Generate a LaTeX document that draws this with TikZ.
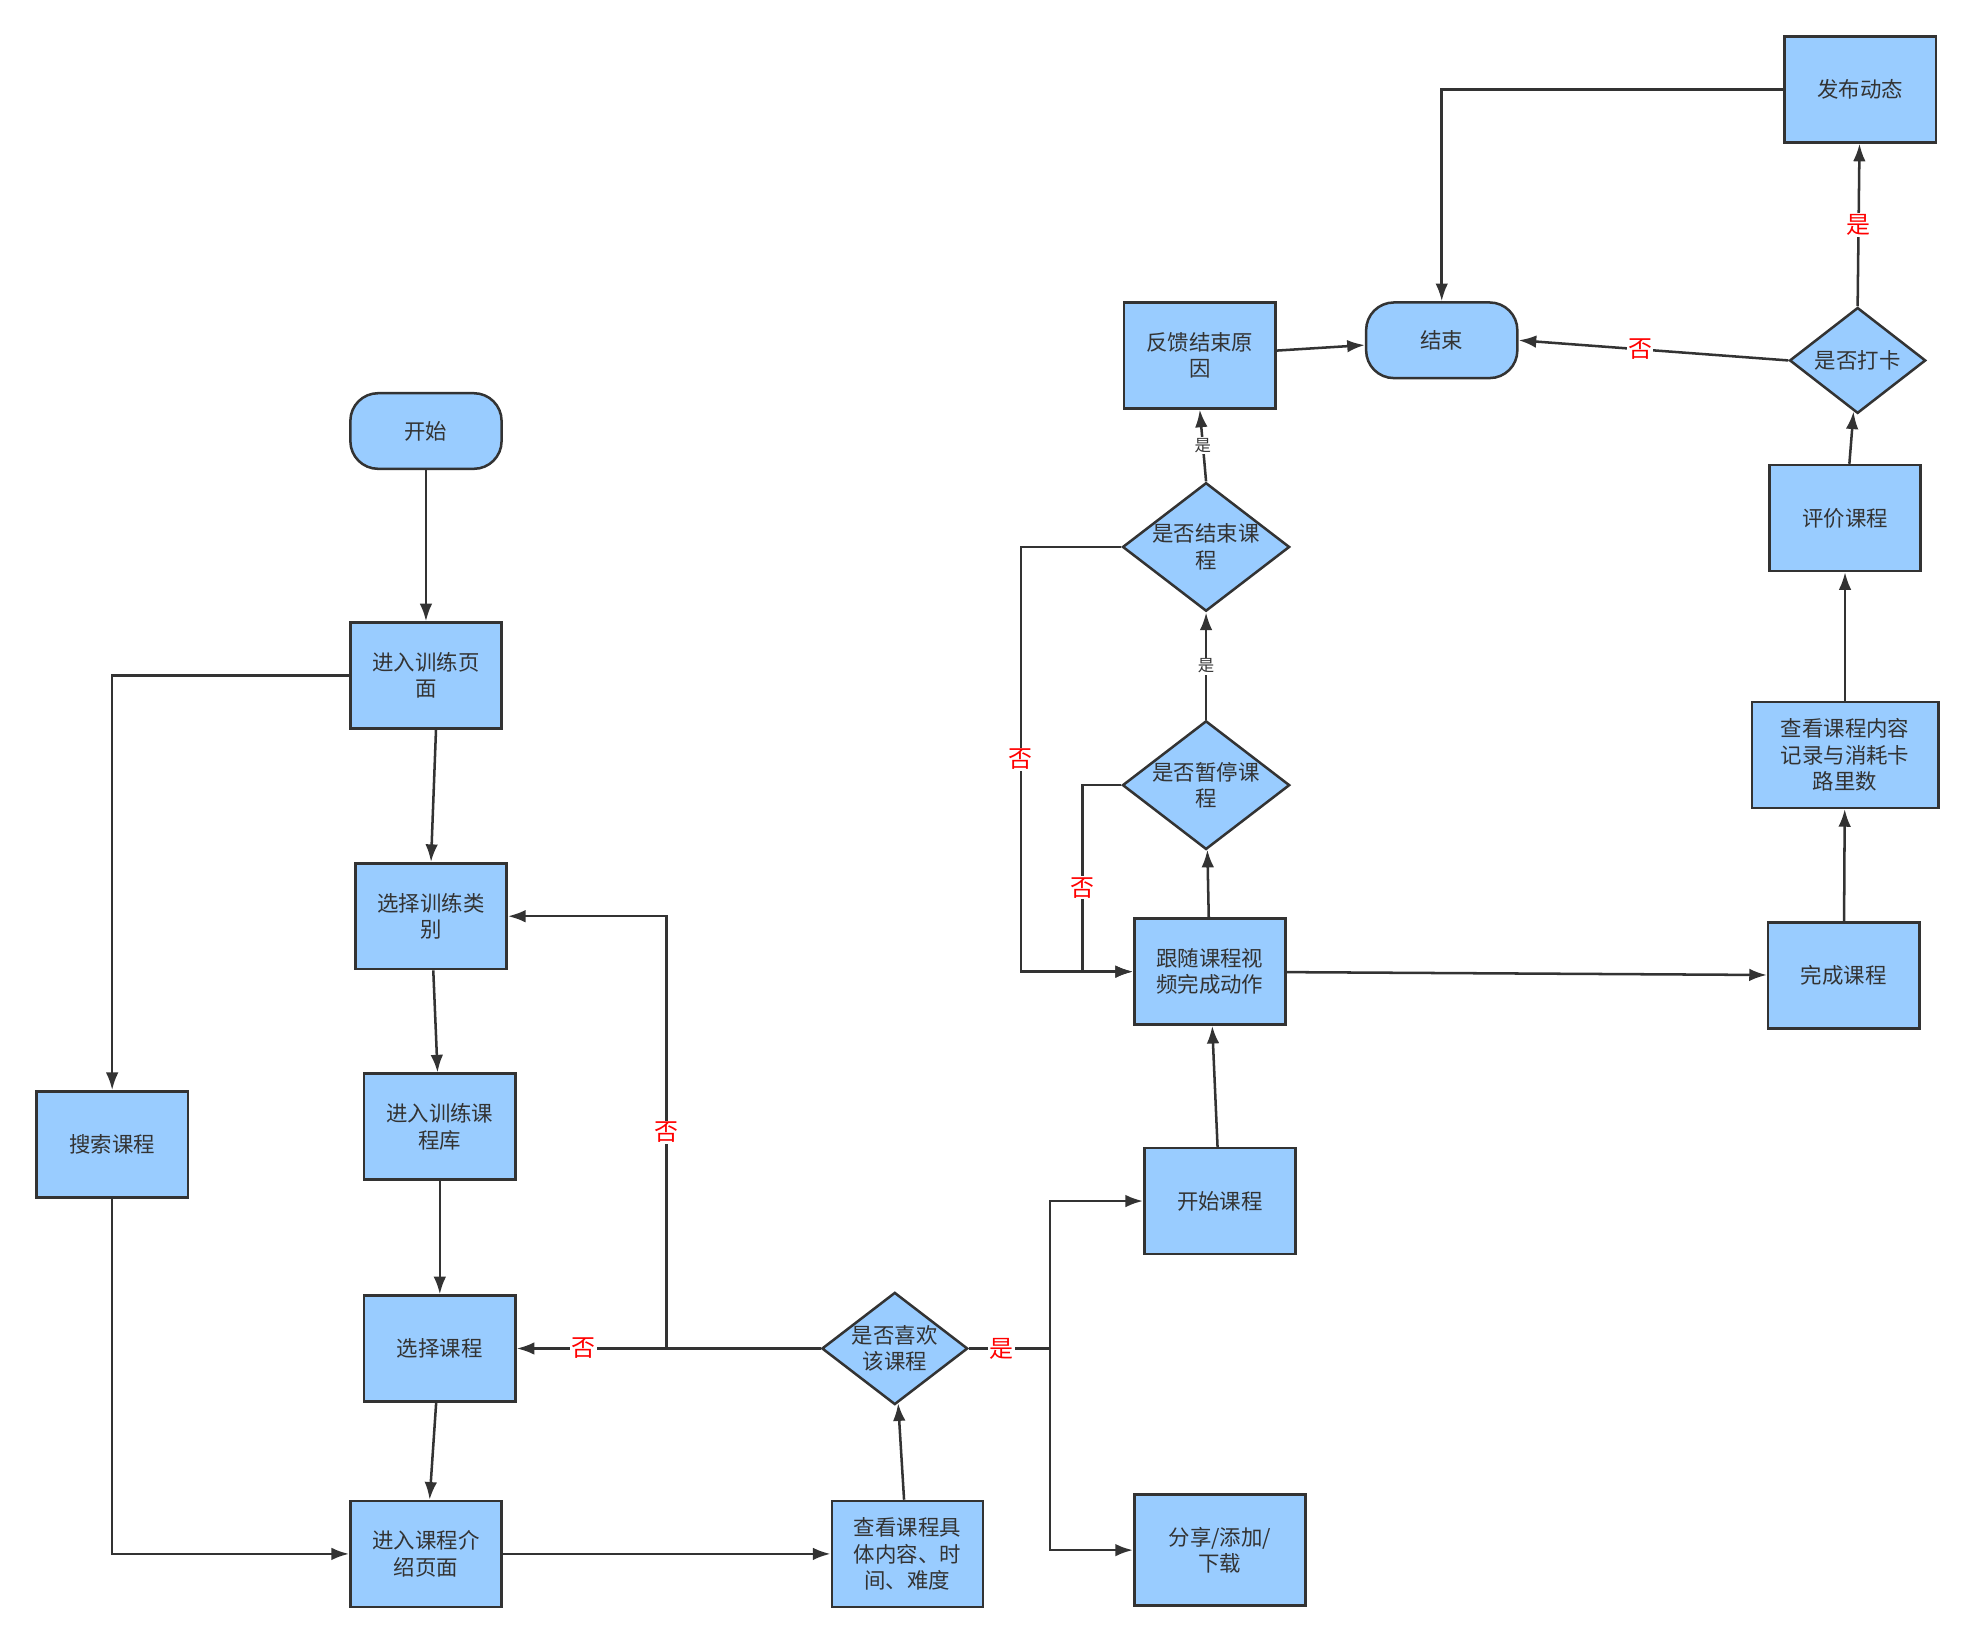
\documentclass[tikz,border=0pt]{standalone}
\usepackage{fontspec}
\setmainfont{Noto Sans CJK SC}
\usetikzlibrary{arrows.meta,shapes.geometric}
\begin{document}
\begin{tikzpicture}[x=1pt,y=-1pt,
  every node/.style={font=\fontsize{17}{21}\selectfont, text=black!80},
  box/.style={draw=black!80, line width=2pt, fill=blue!20!cyan!40!white, fill={rgb,255:red,153;green,204;blue,255}, minimum width=120pt, minimum height=84pt, align=center, inner sep=2pt},
  term/.style={box, rounded corners=22pt, minimum height=60pt},
  dia/.style={draw=black!80, line width=2pt, fill={rgb,255:red,153;green,204;blue,255}, diamond, aspect=1.3, inner sep=0pt, align=center, minimum width=108pt, minimum height=84pt},
  ar/.style={draw=black!80, line width=2pt, -{Latex[length=14pt,width=10pt]}},
  no/.style={fill=white, text=red, inner sep=1pt, font=\fontsize{19}{21}\selectfont},
  yes/.style={fill=white, text=black!80, inner sep=1pt, font=\fontsize{13}{15}\selectfont}]
\useasboundingbox (0,0) rectangle (1560,1298);
\node[term] (start) at (338,342) {开始};
\node[box] (train) at (338,536) {进入训练页\\面};
\node[box] (cat) at (342,727) {选择训练类\\别};
\node[box] (lib) at (349,894) {进入训练课\\程库};
\node[box] (sel) at (349,1070) {选择课程};
\node[box] (intro) at (338,1233) {进入课程介\\绍页面};
\node[box] (search) at (89,908) {搜索课程};
\node[box] (view) at (720,1233) {查看课程具\\体内容、时\\间、难度};
\node[dia] (like) at (710,1070) {是否喜欢\\该课程};
\node[box] (begin) at (968,953) {开始课程};
\node[box, minimum width=136pt, minimum height=88pt] (share) at (968,1230) {分享/添加/\\下载};
\node[box] (follow) at (960,771) {跟随课程视\\频完成动作};
\node[dia, minimum width=126pt, minimum height=82pt] (pause) at (957,623) {是否暂停课\\程};
\node[dia, minimum width=130pt, minimum height=86pt] (endq) at (957,434) {是否结束课\\程};
\node[box] (fb) at (952,282) {反馈结束原\\因};
\node[term] (end) at (1144,270) {结束};
\node[box] (done) at (1463,774) {完成课程};
\node[box, minimum width=148pt] (rec) at (1464,599) {查看课程内容\\记录与消耗卡\\路里数};
\node[box] (rate) at (1464,411) {评价课程};
\node[dia] (punch) at (1474,286) {是否打卡};
\node[box] (post) at (1476,71) {发布动态};

\draw[ar] (start) -- (train);
\draw[ar] (346,578) -- (cat.north);
\draw[ar] (train.west) -| (search.north);
\draw[ar] (cat) -- (lib);
\draw[ar] (lib) -- (sel);
\draw[ar] (sel) -- (intro);
\draw[ar] (search.south) |- (intro.west);
\draw[ar] (intro) -- (view);
\draw[ar] (view) -- (like);
\draw[ar] (like.west) -- node[no, pos=0.78]{否} (sel.east);
\draw[ar] (529,1070) -- (529,727) node[no, pos=0.5]{否} -- (cat.east);
\coordinate (bj) at (833,1070);
\draw[line width=2pt, draw=black!80] (like.east) -- node[no, pos=0.4]{是} (bj);
\draw[ar] (bj) |- (begin.west);
\draw[ar] (bj) |- (share.west);
\draw[ar] (begin) -- (follow);
\draw[ar] (follow) -- (pause);
\draw[ar] (pause.north) -- node[yes]{是} (endq.south);
\draw[ar] (pause.west) -- (859,623) -- (859,771) node[no, pos=0.55]{否} -- (follow.west);
\draw[ar] (endq.west) -- (810,434) -- (810,771) node[no, pos=0.5]{否} -- (follow.west);
\draw[ar] (endq.north) -- node[yes]{是} (fb.south);
\draw[ar] (fb) -- (end);
\draw[ar] (follow) -- (done);
\draw[ar] (done) -- (rec);
\draw[ar] (rec) -- (rate);
\draw[ar] (rate) -- (punch);
\draw[ar] (punch.north) -- node[no]{是} (post);
\draw[ar] (punch.west) -- node[no, pos=0.55]{否} (end.east);
\draw[ar] (post.west) -| (end.north);
\end{tikzpicture}
\end{document}
